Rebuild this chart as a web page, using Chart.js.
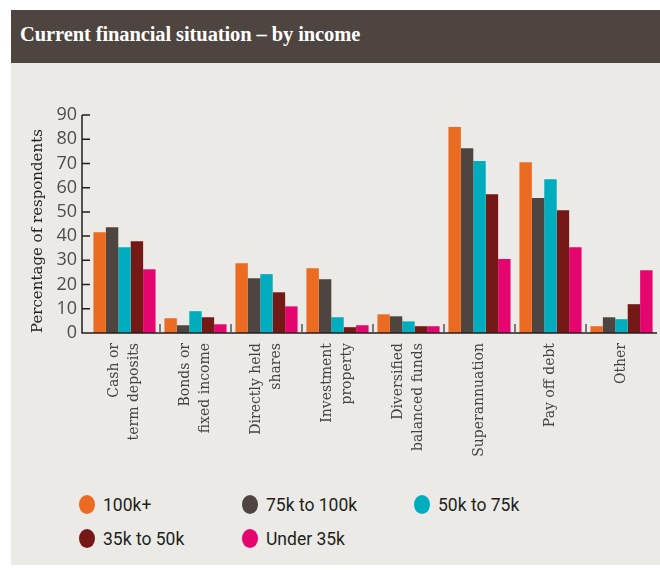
<!DOCTYPE html>
<html>
<head>
<meta charset="utf-8">
<script src="https://cdn.jsdelivr.net/npm/chart.js@4.4.1/dist/chart.umd.min.js"></script>
<style>
  body { margin: 0; background: #fff; width: 660px; height: 570px; position: relative; overflow: hidden; }
  .panel { position: absolute; left: 11px; top: 10px; width: 649px; height: 555px; background: #ebeae6; }
  .band { position: absolute; left: 11px; top: 10px; width: 649px; height: 53px; background: #4f4540; }
  .band h1 { margin: 0; position: absolute; left: 9px; top: 13px; color: #fff; font: bold 20.5px "Liberation Serif", serif; letter-spacing: -0.1px; }
  #wrap { position: absolute; left: 0; top: 63px; width: 660px; height: 420px; }
  .legend-item { position: absolute; font: 17.5px Roboto, sans-serif; color: #231f20; line-height: 20px; }
  .legend-item span { position: absolute; left: -24px; top: 0px; width: 16px; height: 19px; border-radius: 50%; }
</style>
</head>
<body>
<div class="panel"></div>
<div class="band"><h1>Current financial situation – by income</h1></div>
<div id="wrap"><canvas id="chart"></canvas></div>
<div id="legend"></div>
<script>
const categories = [
  ['Cash or', 'term deposits'],
  ['Bonds or', 'fixed income'],
  ['Directly held', 'shares'],
  ['Investment', 'property'],
  ['Diversified', 'balanced funds'],
  'Superannuation',
  'Pay off debt',
  'Other'
];
const seriesNames = ['100k+', '75k to 100k', '50k to 75k', '35k to 50k', 'Under 35k'];
const seriesColors = ['#ea6b21', '#4f4540', '#00adbe', '#751917', '#e5056f'];
const income100kPlus = [41.6, 6.1, 28.8, 26.7, 7.7, 85, 70.5, 2.8];
const income75to100k = [43.7, 3.2, 22.6, 22.2, 6.9, 76.3, 55.7, 6.5];
const income50to75k = [35.4, 9, 24.3, 6.5, 4.8, 71, 63.5, 5.7];
const income35to50k = [37.9, 6.5, 16.8, 2.4, 2.8, 57.3, 50.7, 11.9];
const incomeUnder35k = [26.3, 3.6, 11, 3.2, 2.8, 30.5, 35.4, 25.9];
const yTicks = [0, 10, 20, 30, 40, 50, 60, 70, 80, 90];

const seriesValues = [income100kPlus, income75to100k, income50to75k, income35to50k, incomeUnder35k];

// axis lines sit a few px left of the first group, ticks point inwards
const axisLines = {
  id: 'axisLines',
  afterDatasetsDraw(chart) {
    const { ctx, chartArea, scales: { x, y } } = chart;
    const left = chartArea.left - 7;
    const top = y.getPixelForValue(90);
    const bottom = y.getPixelForValue(0);
    ctx.save();
    ctx.strokeStyle = '#231f20';
    ctx.lineWidth = 1.5;
    ctx.beginPath();
    ctx.moveTo(left, top);
    ctx.lineTo(left, bottom);
    ctx.lineTo(chartArea.right, bottom);
    yTicks.forEach(v => {
      const py = y.getPixelForValue(v);
      ctx.moveTo(left, py);
      ctx.lineTo(left + 8, py);
    });
    ctx.stroke();
    ctx.strokeStyle = '#555';
    ctx.beginPath();
    for (let i = 1; i < categories.length; i++) {
      const px = (x.getPixelForTick(i - 1) + x.getPixelForTick(i)) / 2;
      ctx.moveTo(px, bottom);
      ctx.lineTo(px, bottom - 9);
    }
    ctx.stroke();
    ctx.restore();
  }
};

const labelFont = { family: '"DejaVu Serif", serif', size: 14, lineHeight: 1.4 };

new Chart(document.getElementById('chart'), {
  type: 'bar',
  data: {
    labels: categories,
    datasets: seriesNames.map((name, i) => ({
      label: name,
      data: seriesValues[i],
      backgroundColor: seriesColors[i],
      categoryPercentage: 0.875,
      barPercentage: 1.0
    }))
  },
  options: {
    responsive: true,
    maintainAspectRatio: false,
    animation: false,
    layout: { padding: { left: 0, right: 3, top: 52, bottom: 0 } },
    plugins: {
      legend: { display: false },
      tooltip: { enabled: false }
    },
    scales: {
      x: {
        grid: { display: false, drawTicks: false },
        border: { display: false },
        ticks: {
          autoSkip: false,
          minRotation: 90,
          maxRotation: 90,
          padding: 10,
          labelOffset: -10,
          color: '#444',
          font: labelFont,
          callback: (v, i) => Array.isArray(categories[i]) ? categories[i] : ''
        },
        afterFit: scale => { scale.height = 150; }
      },
      // single-line labels sit on their own axis so they stay centred
      x2: {
        type: 'category',
        labels: categories,
        offset: true,
        position: { y: 0 },
        grid: { display: false, drawTicks: false },
        border: { display: false },
        ticks: {
          autoSkip: false,
          minRotation: 90,
          maxRotation: 90,
          padding: 10,
          color: '#444',
          font: labelFont,
          callback: (v, i) => Array.isArray(categories[i]) ? '' : categories[i]
        }
      },
      y: {
        min: 0,
        max: 90,
        afterBuildTicks: scale => { scale.ticks = yTicks.map(v => ({ value: v })); },
        grid: { display: false, drawTicks: false },
        border: { display: false },
        ticks: {
          autoSkip: false,
          padding: 12,
          color: '#4d4d4d',
          font: { family: '"Open Sans", sans-serif', size: 18 }
        },
        title: {
          display: true,
          text: 'Percentage of respondents',
          align: 'start',
          color: '#231f20',
          font: { family: '"DejaVu Serif", serif', size: 15 },
          padding: { top: 29 }
        },
        afterFit: scale => { scale.width = 89; }
      }
    }
  },
  plugins: [axisLines]
});

// legend, laid out in the reference's three columns
const legendSpots = [[103, 495], [266, 495], [438, 495], [103, 529], [266, 529]];
const legend = document.getElementById('legend');
seriesNames.forEach((name, i) => {
  const item = document.createElement('div');
  item.className = 'legend-item';
  item.style.left = legendSpots[i][0] + 'px';
  item.style.top = legendSpots[i][1] + 'px';
  item.innerHTML = '<span style="background:' + seriesColors[i] + '"></span>' + name;
  legend.appendChild(item);
});
</script>
</body>
</html>
